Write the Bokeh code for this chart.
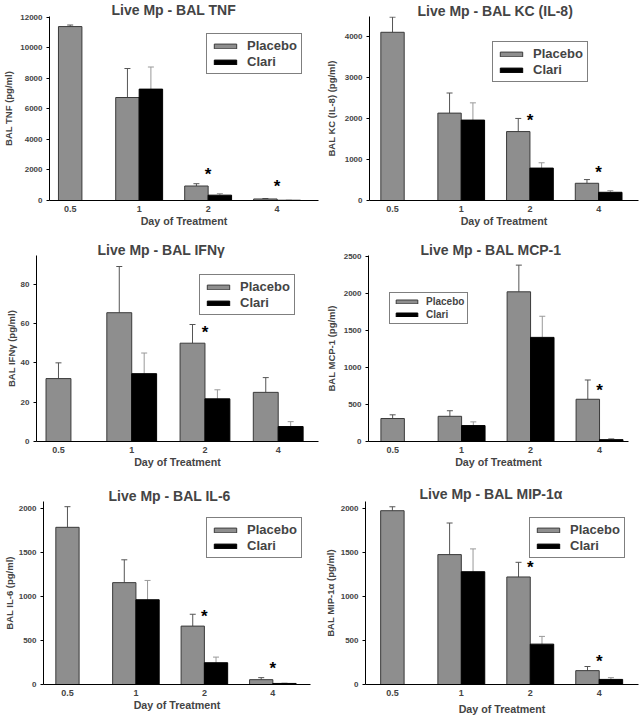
import math
from bokeh.plotting import figure
from bokeh.models import Range1d, FixedTicker, Label, Legend, LegendItem
from bokeh.layouts import column, row
from bokeh.embed import file_html
from bokeh.resources import INLINE

NaN = float("nan")

# ---------------- data ----------------
days = ["0.5", "1", "2", "4"]

tnf_placebo = [11400, 6750, 950, 100]
tnf_placebo_sem = [100, 1900, 150, 30]
tnf_clari = [NaN, 7300, 350, 15]
tnf_clari_sem = [NaN, 1450, 100, 5]
tnf_star = [None, None, 1900, 1100]

kc_placebo = [4100, 2130, 1680, 420]
kc_placebo_sem = [370, 490, 320, 90]
kc_clari = [NaN, 1960, 790, 200]
kc_clari_sem = [NaN, 420, 130, 40]
kc_star = [None, None, 2030, 750]

ifn_placebo = [32, 65.5, 50, 25]
ifn_placebo_sem = [8, 23.5, 9.5, 7.5]
ifn_clari = [NaN, 34.5, 21.7, 7.6]
ifn_clari_sem = [NaN, 10.5, 4.6, 2.5]
ifn_star = [None, None, 57, None]

mcp_placebo = [310, 340, 2020, 570]
mcp_placebo_sem = [50, 75, 360, 260]
mcp_clari = [NaN, 215, 1405, 25]
mcp_clari_sem = [NaN, 50, 285, 15]
mcp_star = [None, None, None, 735]

il6_placebo = [1790, 1160, 665, 55]
il6_placebo_sem = [235, 260, 135, 23]
il6_clari = [NaN, 965, 248, 12]
il6_clari_sem = [NaN, 220, 64, 4]
il6_star = [None, None, 807, 214]

mip_placebo = [1980, 1480, 1225, 158]
mip_placebo_sem = [45, 360, 167, 47]
mip_clari = [NaN, 1285, 460, 58]
mip_clari_sem = [NaN, 260, 88, 20]
mip_star = [None, None, 1370, 300]

# ---------------- layout / style ----------------
FONT = "Liberation Sans"
PLACEBO_COLOR = "#8e8e8e"
CLARI_COLOR = "#000000"
BAR_W = 0.34

panels = [
    dict(title="Live Mp - BAL TNF", ylabel="BAL TNF (pg/ml)",
         p=tnf_placebo, ps=tnf_placebo_sem, c=tnf_clari, cs=tnf_clari_sem, star=tnf_star,
         yticks=[0, 2000, 4000, 6000, 8000, 10000, 12000], ymax=12060,
         W=320, H=230, frame=(45, 11, 318, 200), xr=(-0.30, 3.60),
         leg=(157, 126), legfont=13, xls=0, yls=3, tleft=107, tstand=-2),
    dict(title="Live Mp - BAL KC (IL-8)", ylabel="BAL KC (IL-8) (pg/ml)",
         p=kc_placebo, ps=kc_placebo_sem, c=kc_clari, cs=kc_clari_sem, star=kc_star,
         yticks=[0, 1000, 2000, 3000, 4000], ymax=4485,
         W=322, H=230, frame=(49, 13, 318, 201), xr=(-0.335, 3.58),
         leg=(123, 118), legfont=13, xls=0, yls=5, tleft=97, tstand=-4),
    dict(title="Live Mp - BAL IFNγ", ylabel="BAL IFNγ (pg/ml)",
         p=ifn_placebo, ps=ifn_placebo_sem, c=ifn_clari, cs=ifn_clari_sem, star=ifn_star,
         yticks=[0, 20, 40, 60, 80], ymax=94.6,
         W=320, H=240, frame=(36, 25, 318, 212), xr=(-0.30, 3.55),
         leg=(163, 126), legfont=13, xls=0, yls=1, tleft=97, tstand=-4),
    dict(title="Live Mp - BAL MCP-1", ylabel="BAL MCP-1 (pg/ml)",
         p=mcp_placebo, ps=mcp_placebo_sem, c=mcp_clari, cs=mcp_clari_sem, star=mcp_star,
         yticks=[0, 500, 1000, 1500, 2000, 2500], ymax=2510,
         W=322, H=240, frame=(48, 25, 308, 213), xr=(-0.35, 3.42),
         leg=(21, 117), legfont=10, xls=0, yls=4, tleft=100, tstand=-4),
    dict(title="Live Mp - BAL IL-6", ylabel="BAL IL-6 (pg/ml)",
         p=il6_placebo, ps=il6_placebo_sem, c=il6_clari, cs=il6_clari_sem, star=il6_star,
         yticks=[0, 500, 1000, 1500, 2000], ymax=2084,
         W=320, H=249, frame=(41, 31, 310, 218), xr=(-0.35, 3.55),
         leg=(163, 126), legfont=13, xls=0, yls=1, tleft=106, tstand=-4),
    dict(title="Live Mp - BAL MIP-1α", ylabel="BAL MIP-1α (pg/ml)",
         p=mip_placebo, ps=mip_placebo_sem, c=mip_clari, cs=mip_clari_sem, star=mip_star,
         yticks=[0, 500, 1000, 1500, 2000], ymax=2085,
         W=322, H=249, frame=(45, 27, 318, 214), xr=(-0.39, 3.57),
         leg=(164, 126), legfont=13, xls=4, yls=2, tleft=99, tstand=-1),
]


def make_panel(cfg):
    W, H = cfg["W"], cfg["H"]
    l, t, r, b = cfg["frame"]
    p = figure(width=W, height=H, output_backend="svg", toolbar_location=None,
               x_range=Range1d(*cfg["xr"]), y_range=Range1d(0, cfg["ymax"]),
               min_border_left=l, min_border_top=t,
               min_border_right=W - r, min_border_bottom=H - b,
               outline_line_color=None, background_fill_color="white",
               border_fill_color="white")
    p.xgrid.grid_line_color = None
    p.ygrid.grid_line_color = None

    # title
    p.title.text = cfg["title"]
    p.title.align = "left"
    p.title.offset = cfg["tleft"] - l
    p.title.standoff = cfg["tstand"]
    p.title.text_font = FONT
    p.title.text_font_style = "bold"
    p.title.text_font_size = "14px"

    n = len(days)
    idx = list(range(n))
    has_c = [not math.isnan(v) for v in cfg["c"]]
    px = [i - BAR_W / 2 if has_c[i] else i for i in idx]
    cx = [i + BAR_W / 2 for i in idx if has_c[i]]
    cv = [cfg["c"][i] for i in idx if has_c[i]]
    csem = [cfg["cs"][i] for i in idx if has_c[i]]

    ptop = [v + e for v, e in zip(cfg["p"], cfg["ps"])]
    ctop = [v + e for v, e in zip(cv, csem)]
    p.segment(x0=px, y0=cfg["p"], x1=px, y1=ptop, line_color="#555555", line_width=1)
    p.scatter(x=px, y=ptop, marker="dash", size=6, line_color="#555555", line_width=1)
    p.segment(x0=cx, y0=cv, x1=cx, y1=ctop, line_color="#999999", line_width=1)
    p.scatter(x=cx, y=ctop, marker="dash", size=6, line_color="#999999", line_width=1)

    rp = p.vbar(x=px, top=cfg["p"], width=BAR_W, bottom=0,
                fill_color=PLACEBO_COLOR, line_color="#3a3a3a", line_width=1)
    rc = p.vbar(x=cx, top=cv, width=BAR_W, bottom=0,
                fill_color=CLARI_COLOR, line_color="#000000", line_width=1)

    for i, s in enumerate(cfg["star"]):
        if s is not None:
            p.add_layout(Label(x=i, y=s, y_offset=-3, text="*", text_align="center",
                               text_baseline="middle", text_font=FONT,
                               text_font_style="bold", text_font_size="17px",
                               text_color="black"))

    xa = p.xaxis[0]
    xa.ticker = FixedTicker(ticks=idx)
    xa.major_label_overrides = {i: d for i, d in enumerate(days)}
    xa.major_tick_out = 0
    xa.major_tick_in = 0
    xa.minor_tick_out = 0
    xa.minor_tick_in = 0
    xa.major_label_standoff = 5
    xa.major_label_text_font = FONT
    xa.major_label_text_font_style = "bold"
    xa.major_label_text_font_size = "9px"
    xa.axis_label = "Day of Treatment"
    xa.axis_label_text_font = FONT
    xa.axis_label_text_font_style = "bold"
    xa.axis_label_text_font_size = "10.7px"
    xa.axis_label_standoff = cfg["xls"]
    xa.axis_line_color = "black"

    ya = p.yaxis[0]
    ya.ticker = FixedTicker(ticks=cfg["yticks"])
    ya.major_tick_out = 3
    ya.major_tick_in = 0
    ya.minor_tick_out = 0
    ya.minor_tick_in = 0
    ya.major_label_standoff = 4
    ya.major_label_text_font = FONT
    ya.major_label_text_font_style = "bold"
    ya.major_label_text_font_size = "8px"
    ya.axis_label = cfg["ylabel"]
    ya.axis_label_text_font = FONT
    ya.axis_label_text_font_style = "bold"
    ya.axis_label_text_font_size = "9.5px"
    ya.axis_label_standoff = cfg["yls"]
    ya.axis_line_color = "black"

    lf = cfg["legfont"]
    small = lf < 12
    legend = Legend(items=[LegendItem(label="Placebo", renderers=[rp]),
                           LegendItem(label="Clari", renderers=[rc])],
                    location=cfg["leg"],
                    label_text_font=FONT, label_text_font_style="bold",
                    label_text_font_size="%dpx" % lf,
                    label_height=lf, glyph_height=5 if small else 6,
                    glyph_width=27 if small else 28,
                    label_standoff=6 if small else 8,
                    padding=3 if small else 4, spacing=2 if small else 1,
                    margin=0, border_line_color="black", border_line_width=1,
                    background_fill_color="white", background_fill_alpha=1.0)
    p.add_layout(legend)
    return p


figs = [make_panel(c) for c in panels]
layout = column(row(figs[0], figs[1]), row(figs[2], figs[3]), row(figs[4], figs[5]))

open("out.html", "w").write(file_html(layout, INLINE))
